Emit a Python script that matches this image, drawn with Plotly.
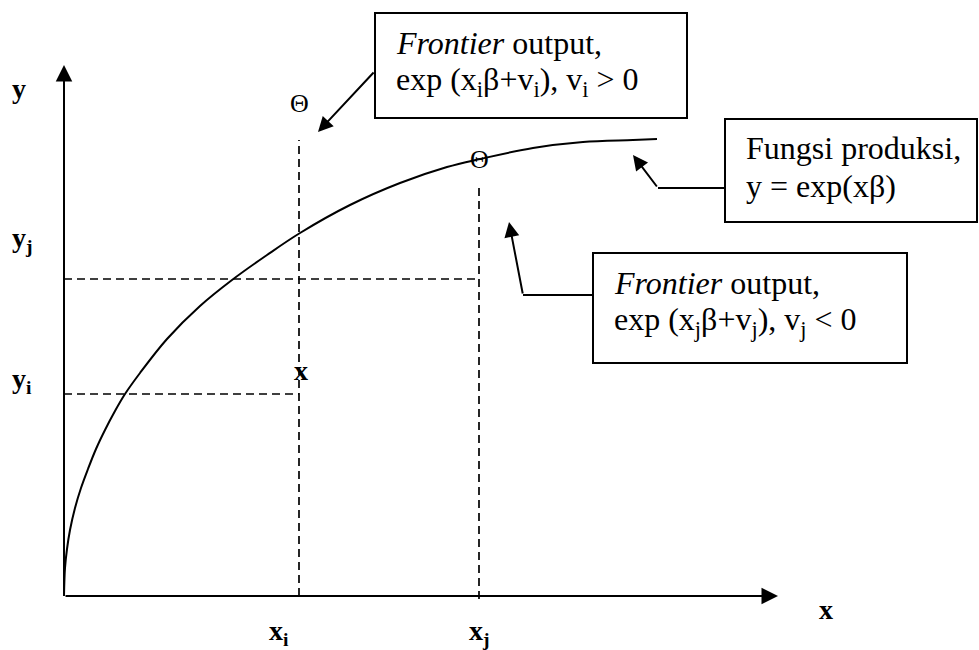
import plotly.graph_objects as go

# Production frontier curve (x = input, y = output), in drawing units
curve_x = [0, 1, 3, 6, 11, 17, 24, 32, 41, 51, 61, 76, 103, 136, 168, 203, 236, 286, 336, 383, 416, 469, 519, 569, 593]
curve_y = [0, 28, 47, 66, 88, 108, 127, 147, 166, 185, 202, 223, 257, 290, 316, 341, 363, 391, 413, 429, 437, 448, 454, 456, 457]

# Reference inputs / outputs
x_i, x_j = 235, 415
y_i, y_j = 202, 317
x_axis_end, y_axis_end = 714, 531

# Observed points
frontier_above = (x_i, 490)     # exp(x_i b + v_i), v_i > 0
frontier_on_curve = (x_j, 437)  # exp(x_j b + v_j), v_j < 0
observed_i = (x_i, 226)         # observed output "x"

FONT = "Liberation Serif"
BLACK = "black"

fig = go.Figure()

# Frontier curve
fig.add_trace(go.Scatter(x=curve_x, y=curve_y, mode="lines", line_shape="spline",
                         line=dict(color=BLACK, width=2), hoverinfo="skip", showlegend=False))

dash = dict(color=BLACK, width=1.7, dash="8px,5px")
shapes = [
    # dashed guides
    dict(type="line", x0=0, y0=y_j, x1=x_j, y1=y_j, line=dash),
    dict(type="line", x0=0, y0=y_i, x1=x_i, y1=y_i, line=dash),
    dict(type="line", x0=x_i, y0=0, x1=x_i, y1=456, line=dash),
    dict(type="line", x0=x_j, y0=-3, x1=x_j, y1=408, line=dash),
    # boxes
    dict(type="rect", x0=311, y0=478, x1=623, y1=583, line=dict(color=BLACK, width=2)),
    dict(type="rect", x0=661, y0=374, x1=913, y1=477, line=dict(color=BLACK, width=2)),
    dict(type="rect", x0=529, y0=233, x1=843, y1=343, line=dict(color=BLACK, width=2)),
    # elbow connectors
    dict(type="line", x0=661, y0=408, x1=594, y1=408, line=dict(color=BLACK, width=2)),
    dict(type="line", x0=529, y0=301, x1=459, y1=301, line=dict(color=BLACK, width=2)),
]
for s in shapes:
    s.update(xref="x", yref="y")
fig.update_layout(shapes=shapes)

ann = []

def arrow(tail, tip, width=2, size=1.4):
    ann.append(dict(x=tip[0], y=tip[1], ax=tail[0], ay=tail[1], xref="x", yref="y",
                    axref="x", ayref="y", text="", showarrow=True, arrowhead=2,
                    arrowwidth=width, arrowsize=size, arrowcolor=BLACK, standoff=0))

# axes with arrowheads
arrow((0, 0), (x_axis_end, 0), width=2, size=1.65)
arrow((0, 0), (0, y_axis_end), width=2, size=1.65)
# callout arrows
arrow((311, 525), (254, 464), width=2, size=1.5)
arrow((594, 408), (569, 441), width=2, size=1.5)
arrow((459, 301), (445, 374), width=2, size=1.5)

def label(x, y, text, size=28, xanchor="left", yanchor="middle"):
    ann.append(dict(x=x, y=y, xref="x", yref="y", text=text, showarrow=False,
                    xanchor=xanchor, yanchor=yanchor,
                    font=dict(family=FONT, size=size, color=BLACK)))

# axis labels
label(-54, 508, "<b>y</b>")
label(-54, 357, "<b>y<sub>j</sub></b>")
label(-54, 216, "<b>y<sub>i</sub></b>")
label(203, -36, "<b>x<sub>i</sub></b>")
label(403, -36, "<b>x<sub>j</sub></b>")
label(753, -13, "<b>x</b>")

# points
label(frontier_above[0], frontier_above[1] + 3, "Θ", size=26, xanchor="center")
label(frontier_on_curve[0], frontier_on_curve[1], "Θ", size=26, xanchor="center")
label(observed_i[0] - 7, observed_i[1], "<b>x</b>", size=28)

# box texts
label(330, 553, "<i>Frontier</i> output,", size=32)
label(330, 515, "exp (x<sub>i</sub>β+v<sub>i</sub>), v<sub>i</sub> &gt; 0", size=32)
label(680, 448, "Fungsi produksi,", size=32)
label(680, 410, "y = exp(xβ)", size=32)
label(548, 313, "<i>Frontier</i> output,", size=32)
label(548, 275, "exp (x<sub>j</sub>β+v<sub>j</sub>), v<sub>j</sub> &lt; 0", size=32)

fig.update_layout(
    annotations=ann,
    width=979, height=650,
    margin=dict(l=0, r=0, t=0, b=0),
    paper_bgcolor="white", plot_bgcolor="white",
    xaxis=dict(range=[-64, 915], visible=False, fixedrange=True),
    yaxis=dict(range=[-54, 596], visible=False, fixedrange=True),
    showlegend=False,
)

fig.write_html("out.html")
